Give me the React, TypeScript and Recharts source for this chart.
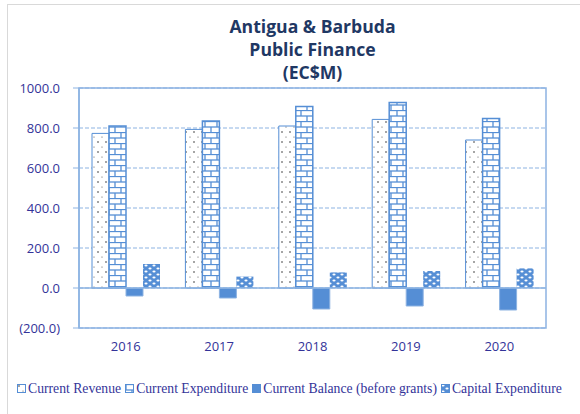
import {
  BarChart,
  Bar,
  XAxis,
  YAxis,
  CartesianGrid,
  ReferenceLine,
  ReferenceArea,
} from 'recharts';

const years = ['2016', '2017', '2018', '2019', '2020'];
const currentRevenue = [773, 793, 810, 843, 740];
const currentExpenditure = [810, 835, 907, 927, 848];
const currentBalance = [-40, -50, -105, -90, -110];
const capitalExpenditure = [120, 57, 78, 85, 98];
const yTicks = [-200, 0, 200, 400, 600, 800, 1000];

const titleLines = ['Antigua & Barbuda', 'Public Finance', '(EC$M)'];

const legendItems = [
  { label: 'Current Revenue', fill: 'url(#dots)' },
  { label: 'Current Expenditure', fill: 'url(#bricks)' },
  { label: 'Current Balance (before grants)', fill: '#558ed5' },
  { label: 'Capital Expenditure', fill: 'url(#spheres)' },
];

const BLUE = '#558ed5';
const LIGHT = '#8db3e2';
const TEXT = '#333399';

const chartData = years.map((year, i) => ({
  year,
  revenue: currentRevenue[i],
  expenditure: currentExpenditure[i],
  balance: currentBalance[i],
  capital: capitalExpenditure[i],
}));

const formatTick = (v: number) => (v < 0 ? `(${Math.abs(v).toFixed(1)})` : v.toFixed(1));

function Patterns() {
  return (
    <defs>
      <pattern id="dots" patternUnits="userSpaceOnUse" width="8" height="10">
        <rect width="8" height="10" fill="#fff" />
        <circle cx="2" cy="2" r="0.8" fill="#333" />
        <circle cx="6" cy="7" r="0.6" fill="#555" />
      </pattern>
      <pattern id="bricks" patternUnits="userSpaceOnUse" width="12" height="11">
        <rect width="12" height="11" fill="#fff" />
        <line x1="0" y1="0.5" x2="12" y2="0.5" stroke={BLUE} strokeWidth="1.3" />
        <line x1="0" y1="6" x2="12" y2="6" stroke={BLUE} strokeWidth="1.3" />
        <line x1="1" y1="0" x2="1" y2="6" stroke={BLUE} strokeWidth="1.3" />
        <line x1="7" y1="6" x2="7" y2="11" stroke={BLUE} strokeWidth="1.3" />
      </pattern>
      <pattern id="spheres" patternUnits="userSpaceOnUse" width="8" height="6">
        <rect width="8" height="6" fill={BLUE} />
        <ellipse cx="2" cy="1.5" rx="1.6" ry="1.1" fill="#fff" />
        <ellipse cx="6" cy="4.5" rx="1.6" ry="1.1" fill="#fff" />
      </pattern>
    </defs>
  );
}

export default function App() {
  return (
    <div style={{ position: 'relative', width: 580, height: 414, background: '#fff', overflow: 'hidden' }}>
      <style>{'body{margin:0}'}</style>
      <div
        style={{
          position: 'absolute',
          left: 7,
          top: 4,
          right: -2,
          bottom: -2,
          borderLeft: '1px solid #d9d9d9',
          borderTop: '1px solid #d9d9d9',
        }}
      />
      <div
        style={{
          position: 'absolute',
          left: 79,
          width: 467,
          top: 15,
          textAlign: 'center',
          fontFamily: '"Open Sans", sans-serif',
          fontWeight: 700,
          fontSize: 17.6,
          lineHeight: '23px',
          color: '#1f3864',
        }}
      >
        {titleLines.map((line) => (
          <div key={line}>{line}</div>
        ))}
      </div>
      <div style={{ position: 'absolute', left: 0, top: 0 }}>
        <BarChart
          width={580}
          height={414}
          data={chartData}
          margin={{ top: 88, right: 34, left: 0, bottom: 56 }}
          barCategoryGap={13}
          barGap={0}
        >
          <Patterns />
          <CartesianGrid vertical={false} stroke={LIGHT} strokeDasharray="4 2" />
          <ReferenceArea y1={-200} y2={1000} fill="none" stroke={LIGHT} strokeWidth={1.5} />
          <XAxis
            dataKey="year"
            axisLine={false}
            tickLine={false}
            tickSize={0}
            tickMargin={14}
            height={30}
            tick={{ fill: TEXT, fontSize: 13, fontFamily: '"Open Sans", sans-serif' }}
          />
          <YAxis
            width={79}
            domain={[-200, 1000]}
            ticks={yTicks}
            interval={0}
            tickFormatter={formatTick}
            axisLine={{ stroke: LIGHT, strokeWidth: 1.5 }}
            tickLine={{ stroke: LIGHT }}
            tickSize={6}
            tickMargin={13}
            tick={{ fill: TEXT, fontSize: 13, fontFamily: '"Open Sans", sans-serif' }}
          />
          <ReferenceLine y={0} stroke={LIGHT} strokeWidth={1.5} />
          <Bar dataKey="revenue" fill="url(#dots)" stroke={BLUE} strokeWidth={1} isAnimationActive={false} />
          <Bar dataKey="expenditure" fill="url(#bricks)" stroke={BLUE} strokeWidth={1.5} isAnimationActive={false} />
          <Bar dataKey="balance" fill={BLUE} stroke={LIGHT} strokeWidth={1} isAnimationActive={false} />
          <Bar dataKey="capital" fill="url(#spheres)" isAnimationActive={false} />
        </BarChart>
      </div>
      <div
        style={{
          position: 'absolute',
          left: 17,
          top: 381,
          whiteSpace: 'nowrap',
          fontFamily: '"Liberation Serif", serif',
          fontSize: 13.7,
          color: TEXT,
          lineHeight: '16px',
        }}
      >
        {legendItems.map((item) => (
          <span key={item.label} style={{ marginRight: 4 }}>
            <svg width={9} height={9} style={{ marginRight: 2, verticalAlign: 'baseline' }}>
              <Patterns />
              <rect x={0.5} y={0.5} width={8} height={8} fill={item.fill} stroke={BLUE} strokeWidth={1} />
            </svg>
            {item.label}
          </span>
        ))}
      </div>
    </div>
  );
}
